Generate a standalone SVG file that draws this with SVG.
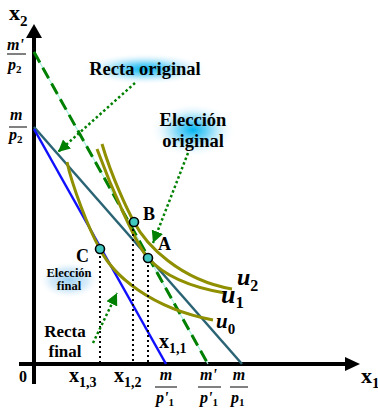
<svg xmlns="http://www.w3.org/2000/svg" width="378" height="411" viewBox="0 0 378 411">
<style>
.t{font-family:"Liberation Serif","Times New Roman",serif;font-weight:bold;fill:#000}
.i{font-style:italic}
.frac{stroke:#808080;stroke-width:2}
.ic{fill:none;stroke:#8f8f00;stroke-width:3}
.dot{fill:none;stroke:#000;stroke-width:2;stroke-dasharray:2,3}
.gd{fill:none;stroke:#008000;stroke-width:2.5;stroke-dasharray:2.5,2.5}
.pt{fill:#40c8c0;stroke:#000;stroke-width:1.6}
</style>
<defs>
<radialGradient id="glow">
<stop offset="0" stop-color="#00b4f0" stop-opacity="1"/>
<stop offset="0.35" stop-color="#5ccdf6" stop-opacity="0.85"/>
<stop offset="0.7" stop-color="#cdeefb" stop-opacity="0.6"/>
<stop offset="1" stop-color="#ffffff" stop-opacity="0"/>
</radialGradient>
<radialGradient id="glow2">
<stop offset="0" stop-color="#9fd2f4" stop-opacity="1"/>
<stop offset="0.6" stop-color="#cfe8f9" stop-opacity="0.8"/>
<stop offset="1" stop-color="#ffffff" stop-opacity="0"/>
</radialGradient>
<marker id="ga" markerUnits="userSpaceOnUse" markerWidth="13" markerHeight="12" refX="12" refY="6" orient="auto" viewBox="0 0 13 12">
<path d="M0,0 L12,6 L0,12 z" fill="#008000"/>
</marker>
</defs>
<rect width="378" height="411" fill="#fff"/>

<g id="glows">
<rect x="80" y="53" width="130" height="32" fill="url(#glow)"/>
<rect x="150" y="103" width="86" height="54" fill="url(#glow)"/>
<rect x="38" y="261" width="62" height="38" fill="url(#glow2)"/>
</g>

<g id="axes">
<line x1="34" y1="36" x2="34" y2="384" stroke="#000" stroke-width="4"/>
<polygon points="34,24 26,38 42,38" fill="#000"/>
<line x1="19" y1="364" x2="347" y2="364" stroke="#000" stroke-width="4"/>
<polygon points="360,364 345,357 345,371" fill="#000"/>
</g>

<g id="connectors">
<line x1="34" y1="52" x2="208" y2="364" stroke="#a8f0e0" stroke-width="1.2"/>
<line x1="34" y1="52" x2="208" y2="364" stroke="#008000" stroke-width="3" stroke-dasharray="12,6"/>
<line x1="34" y1="127" x2="242" y2="364" stroke="#2a6474" stroke-width="2.5"/>
<line x1="34" y1="129" x2="166" y2="364" stroke="#1010ff" stroke-width="2.5"/>
<path class="ic" d="M67,162 C72,185 88,228 100,249 C113,275 150,308 213,320"/>
<path class="ic" d="M97,149 C112,190 137,246 148,258 C165,277 195,288 225,293"/>
<path class="ic" d="M102,144 C112,178 128,211 134,222 C146,245 180,280 232,289"/>
<line class="dot" x1="100" y1="251" x2="100" y2="364"/>
<line class="dot" x1="133" y1="224" x2="133" y2="364"/>
<line class="dot" x1="148" y1="260" x2="148" y2="364"/>
<line class="gd" x1="135" y1="83" x2="58" y2="152" marker-end="url(#ga)"/>
<line class="gd" x1="188" y1="153" x2="153" y2="243" marker-end="url(#ga)"/>
<line class="gd" x1="93" y1="343" x2="117" y2="293" marker-end="url(#ga)"/>
</g>

<g id="point-A"><circle class="pt" cx="148" cy="258" r="4.5"/><text class="t" x="158" y="250" font-size="18">A</text></g>
<g id="point-B"><circle class="pt" cx="134" cy="222" r="4.5"/><text class="t" x="143" y="220" font-size="18">B</text></g>
<g id="point-C"><circle class="pt" cx="100" cy="249" r="4.5"/><text class="t" x="76" y="262" font-size="18">C</text></g>

<g id="labels-curves">
<text class="t i" x="237" y="285" font-size="24">u<tspan font-size="16" dy="6" font-style="normal">2</tspan></text>
<text class="t i" x="221" y="303" font-size="26">u<tspan font-size="17" dy="5" font-style="normal">1</tspan></text>
<text class="t i" x="216" y="328" font-size="21">u<tspan font-size="15" dy="6" font-style="normal">0</tspan></text>
</g>

<g id="label-recta-original"><text class="t" x="145" y="75" font-size="18.5" text-anchor="middle">Recta original</text></g>
<g id="label-eleccion-original">
<text class="t" x="193" y="126" font-size="18.5" text-anchor="middle">Elección</text>
<text class="t" x="193" y="147" font-size="18.5" text-anchor="middle">original</text>
</g>
<g id="label-eleccion-final">
<text class="t" x="69" y="277" font-size="12.5" text-anchor="middle">Elección</text>
<text class="t" x="69" y="290" font-size="12.5" text-anchor="middle">final</text>
</g>
<g id="label-recta-final">
<text class="t" x="65" y="337" font-size="17" text-anchor="middle">Recta</text>
<text class="t" x="65" y="357" font-size="17" text-anchor="middle">final</text>
</g>

<g id="axis-labels">
<text class="t" x="9" y="20" font-size="22">x<tspan font-size="15" dy="6">2</tspan></text>
<text class="t" x="361" y="383" font-size="22">x<tspan font-size="15" dy="5">1</tspan></text>
<text class="t" x="19" y="382" font-size="16">0</text>
<text class="t" x="159" y="348" font-size="20">x<tspan font-size="14" dy="5">1,1</tspan></text>
<text class="t" x="69" y="382" font-size="20">x<tspan font-size="14" dy="5">1,3</tspan></text>
<text class="t" x="114" y="382" font-size="20">x<tspan font-size="14" dy="5">1,2</tspan></text>
</g>

<g id="fractions">
<text class="t i" x="7" y="50" font-size="16">m'</text>
<line class="frac" x1="7" y1="54" x2="26" y2="54"/>
<text class="t i" x="8" y="70" font-size="16">p<tspan font-size="11" dy="3" font-style="normal">2</tspan></text>

<text class="t i" x="10" y="120" font-size="16">m</text>
<line class="frac" x1="9" y1="127" x2="27" y2="127"/>
<text class="t i" x="9" y="140" font-size="16">p<tspan font-size="11" dy="3" font-style="normal">2</tspan></text>

<text class="t i" x="166" y="380" font-size="16" text-anchor="middle">m</text>
<line class="frac" x1="155" y1="387" x2="177" y2="387"/>
<text class="t i" x="156" y="403" font-size="16">p'<tspan font-size="11" dy="3" font-style="normal">1</tspan></text>

<text class="t i" x="200" y="380" font-size="16">m'</text>
<line class="frac" x1="198" y1="387" x2="221" y2="387"/>
<text class="t i" x="200" y="403" font-size="16">p'<tspan font-size="11" dy="3" font-style="normal">1</tspan></text>

<text class="t i" x="239" y="380" font-size="16" text-anchor="middle">m</text>
<line class="frac" x1="230" y1="387" x2="248" y2="387"/>
<text class="t i" x="231" y="403" font-size="16">p<tspan font-size="11" dy="3" font-style="normal">1</tspan></text>
</g>
</svg>
